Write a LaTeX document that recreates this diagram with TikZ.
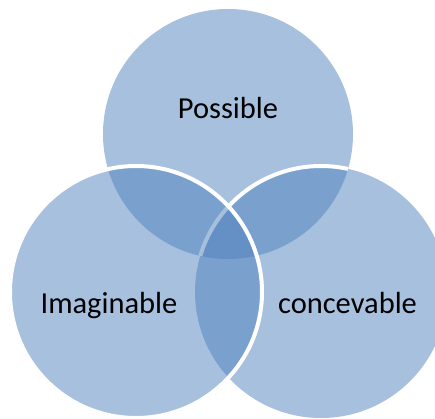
\documentclass[tikz,border=0pt]{standalone}
\usepackage{fontspec}
\setmainfont{Carlito}
\definecolor{venn}{RGB}{79,129,189}
\tikzset{
  circ/.style={fill=venn, fill opacity=0.5},
  rim/.style={draw=white, line width=4pt},
  lbl/.style={font=\fontsize{30.5}{36}\selectfont, text=black, anchor=base, inner sep=0pt}
}
\begin{document}
\begin{tikzpicture}[x=1pt,y=-1pt]
\useasboundingbox (0,0) rectangle (435,418);
\begin{scope}
\clip (0,0) rectangle (435,418);
\coordinate (ctop) at (228,134);
\coordinate (cleft) at (136,292);
\coordinate (cright) at (321,292);
\fill[circ] (ctop) circle[radius=125pt];
\fill[circ] (cright) circle[radius=126pt];
\begin{scope}
\clip (ctop) circle[radius=125pt];
\draw[rim] (cright) circle[radius=126pt];
\end{scope}
\fill[circ] (cleft) circle[radius=126pt];
\draw[rim] (cleft) circle[radius=126pt];
\end{scope}
\node[lbl] (possible) at (228,118) {Possible};
\node[lbl] (imaginable) at (109,313) {Imaginable};
\node[lbl] (concevable) at (347.5,313) {concevable};
\end{tikzpicture}
\end{document}
